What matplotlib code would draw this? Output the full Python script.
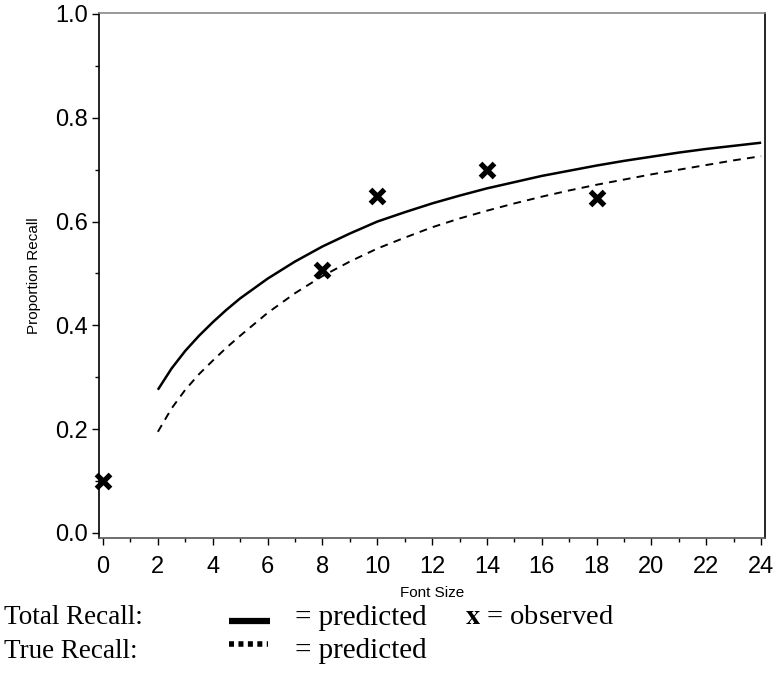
import matplotlib.pyplot as plt
from matplotlib.lines import Line2D
from matplotlib.ticker import MultipleLocator

# observed proportions (x markers)
obs_size = [0, 8, 10, 14, 18]
obs_recall = [0.10, 0.507, 0.649, 0.70, 0.645]

# predicted curves
pred_size = [2, 2.5, 3, 3.5, 4, 4.5, 5, 6, 7, 8, 9, 10, 11, 12, 13, 14, 15, 16, 17, 18, 19, 20, 21, 22, 23, 24]
total_pred = [0.276, 0.317, 0.351, 0.38, 0.406, 0.43, 0.452, 0.49, 0.523, 0.552, 0.577, 0.60, 0.618, 0.635,
              0.65, 0.664, 0.676, 0.688, 0.698, 0.708, 0.717, 0.725, 0.733, 0.74, 0.746, 0.752]
true_pred = [0.195, 0.24, 0.276, 0.306, 0.332, 0.357, 0.38, 0.424, 0.462, 0.495, 0.523, 0.548, 0.569, 0.589,
             0.606, 0.621, 0.635, 0.648, 0.66, 0.671, 0.681, 0.691, 0.70, 0.709, 0.718, 0.726]

xticks = list(range(0, 25, 2))
yticks = [0.0, 0.2, 0.4, 0.6, 0.8, 1.0]

plt.rcParams['font.family'] = ['Liberation Sans', 'DejaVu Sans']

fig = plt.figure(figsize=(7.76, 6.93), dpi=100)
ax = fig.add_axes([0.1276, 0.2237, 0.8582, 0.7576])

ax.plot(pred_size, total_pred, color='black', lw=1.8, solid_capstyle='butt')
ax.plot(pred_size, true_pred, color='black', lw=1.4, dashes=(4, 3.2))
ax.plot(obs_size, obs_recall, ls='none', marker='x', ms=10, mew=3.8, color='black',
        clip_on=False)

ax.set_xlim(-0.146, 24.14)
ax.set_ylim(-0.0096, 1.002)
ax.set_xticks(xticks)
ax.set_yticks(yticks)
ax.set_yticklabels(['%.1f' % v for v in yticks])
ax.xaxis.set_minor_locator(MultipleLocator(1))
ax.yaxis.set_minor_locator(MultipleLocator(0.1))
ax.tick_params(which='major', direction='out', length=5, width=1, labelsize=17, pad=3)
ax.tick_params(axis='x', which='major', pad=8)
ax.tick_params(which='minor', direction='out', length=3, width=1)
for s in ax.spines.values():
    s.set_linewidth(1.2)
ax.spines['top'].set_color('#888888')
ax.spines['bottom'].set_color('#555555')

ax.set_xlabel('Font Size', fontsize=11, labelpad=6)
ax.set_ylabel('Proportion Recall', fontsize=11, labelpad=10)

# legend drawn as text below the chart
serif = ['Liberation Serif', 'DejaVu Serif']
fs = 19.5
fig.text(4 / 776, 1 - 618 / 693, 'Total Recall:', family=serif, fontsize=fs, va='center')
fig.text(4 / 776, 1 - 651 / 693, 'True Recall:', family=serif, fontsize=fs, va='center')
fig.text(295 / 776, 1 - 618 / 693, '= predicted', family=serif, fontsize=fs + 1.5, va='center')
fig.text(295 / 776, 1 - 651 / 693, '= predicted', family=serif, fontsize=fs + 1.5, va='center')
fig.text(465 / 776, 1 - 618 / 693, r'$\mathbf{x}$ = observed', family=serif, fontsize=fs + 1,
         va='center', math_fontfamily='stix')
fig.add_artist(Line2D([229 / 776, 270 / 776], [1 - 621 / 693, 1 - 621 / 693],
                      color='black', lw=4.5, solid_capstyle='butt'))
fig.add_artist(Line2D([229 / 776, 268 / 776], [1 - 644 / 693, 1 - 644 / 693],
                      color='black', lw=4, dashes=(0.9, 0.8)))

fig.savefig('out.png', dpi=100)
